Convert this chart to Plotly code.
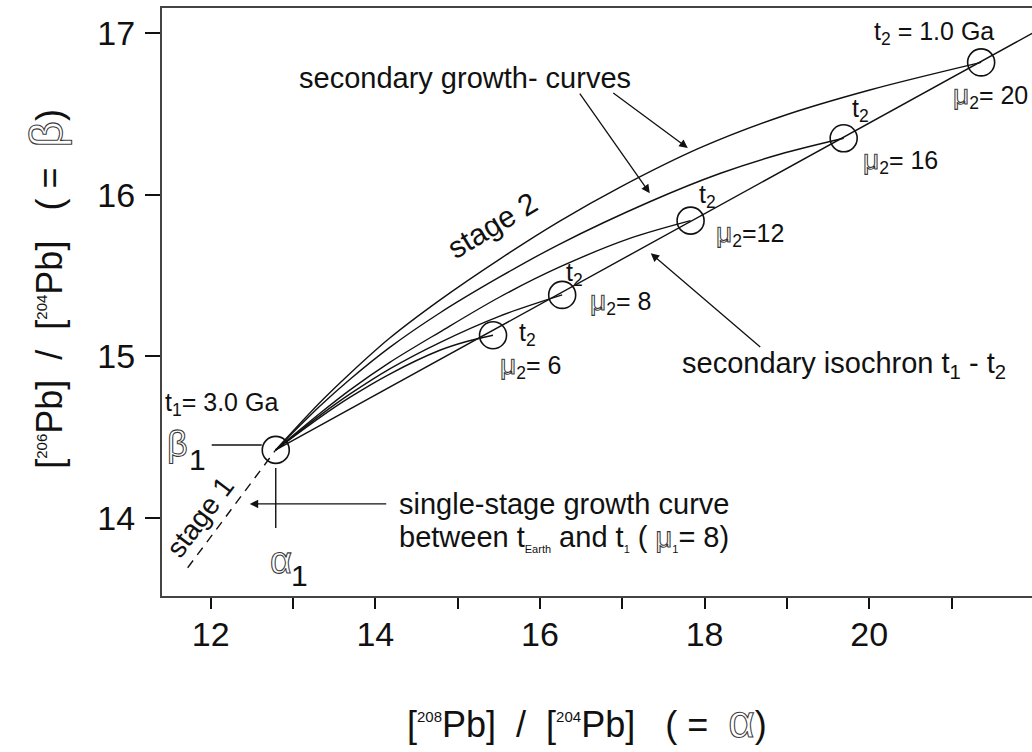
import plotly.graph_objects as go

FONT = "Liberation Sans, Arial, Helvetica, sans-serif"
INK = "#111111"

# ---- data (alpha on x, beta on y) ----
alpha1 = 12.79          # end of stage 1, t1 = 3.0 Ga
beta1 = 14.42
stage1_alpha = [11.72, 12.79]   # single-stage growth curve (dashed part)
stage1_beta = [13.69, 14.42]

mu2 = [6, 8, 12, 16, 20]
t2_alpha = [15.43, 16.27, 17.83, 19.69, 21.36]
t2_beta = [15.13, 15.38, 15.84, 16.35, 16.82]

# secondary isochron t1 - t2 (runs through all t2 points)
isochron_alpha = [12.79, 21.98]
isochron_beta = [14.42, 17.00]

# intermediate points of the secondary growth curves (between t1 and t2)
curve6_alpha = [13.324, 13.689, 14.175, 14.783, 15.098]
curve6_beta = [14.620, 14.745, 14.890, 15.037, 15.090]
curve8_alpha = [13.324, 13.689, 14.175, 14.783, 15.512]
curve8_beta = [14.632, 14.765, 14.922, 15.085, 15.249]
curve12_alpha = [13.324, 13.689, 14.175, 14.783, 15.512, 16.241, 17.091]
curve12_beta = [14.645, 14.790, 14.962, 15.150, 15.367, 15.553, 15.730]
curve16_alpha = [13.324, 13.689, 14.175, 14.783, 15.512, 16.241, 17.334, 18.185, 18.914]
curve16_beta = [14.690, 14.856, 15.055, 15.268, 15.491, 15.695, 15.957, 16.132, 16.251]
curve20_alpha = [13.324, 13.689, 14.175, 14.783, 15.512, 16.241, 16.970, 17.942, 18.914, 20.007]
curve20_beta = [14.712, 14.892, 15.113, 15.348, 15.602, 15.837, 16.046, 16.290, 16.482, 16.649]

x_tick_vals = [12, 13, 14, 15, 16, 17, 18, 19, 20, 21]
x_tick_text = ["12", "", "14", "", "16", "", "18", "", "20", ""]
y_tick_vals = [14, 15, 16, 17]

mid_alpha = [curve6_alpha, curve8_alpha, curve12_alpha, curve16_alpha, curve20_alpha]
mid_beta = [curve6_beta, curve8_beta, curve12_beta, curve16_beta, curve20_beta]

fig = go.Figure()

# stage 1 (dashed)
fig.add_trace(go.Scatter(x=stage1_alpha, y=stage1_beta, mode="lines",
                         line=dict(color=INK, width=1.4, dash="9px,7px")))

# secondary isochron
fig.add_trace(go.Scatter(x=isochron_alpha, y=isochron_beta, mode="lines",
                         line=dict(color=INK, width=1.4)))

# secondary growth curves from t1 to each t2
for i in range(len(mu2)):
    xs = [alpha1] + mid_alpha[i] + [t2_alpha[i]]
    ys = [beta1] + mid_beta[i] + [t2_beta[i]]
    fig.add_trace(go.Scatter(x=xs, y=ys, mode="lines",
                             line=dict(color=INK, width=1.4, shape="spline", smoothing=0.9)))

# open circles at t1 and t2 points
fig.add_trace(go.Scatter(x=[alpha1] + t2_alpha, y=[beta1] + t2_beta, mode="markers",
                         marker=dict(symbol="circle-open", size=27, color=INK,
                                     line=dict(color=INK, width=1.6))))


def hollow(ch, size):
    """Hollow (outlined) glyph used for the Greek symbols."""
    return (f"<span style='fill:none;stroke:rgba(20,20,20,0.85);stroke-width:1.1px;"
            f"text-rendering:geometricPrecision;font-size:{size}px'>{ch}</span>")


ann = []


def txt(x, y, text, size=29, xanchor="center", yanchor="middle", angle=0,
        xshift=0, yshift=0, xref="x", yref="y"):
    ann.append(dict(x=x, y=y, xref=xref, yref=yref, text=text, showarrow=False,
                    xanchor=xanchor, yanchor=yanchor, textangle=angle,
                    xshift=xshift, yshift=yshift,
                    font=dict(family=FONT, size=size, color=INK)))


def arrow(x, y, ax, ay):
    ann.append(dict(x=x, y=y, xref="x", yref="y", ax=ax, ay=ay, text="",
                    showarrow=True, arrowhead=2, arrowsize=1.3, arrowwidth=1.3,
                    arrowcolor=INK, standoff=0))


# labels inside the plot
txt(13.045, 16.723, "secondary growth- curves", xanchor="left")
arrow(17.796, 16.290, -76, -56)
arrow(17.334, 16.010, -71, -101)
txt(15.414, 15.811, "stage 2", size=30, angle=-31)
txt(11.866, 14.004, "stage 1", size=28, angle=-53)
txt(17.699, 14.946, "secondary isochron t<sub>1</sub> - t<sub>2</sub>", xanchor="left")
arrow(17.346, 15.638, 111, 95)

txt(11.417, 14.705, "t<sub>1</sub>= 3.0 Ga", size=25, xanchor="left")
txt(11.593, 14.462, hollow("β", 36), size=36)
txt(11.836, 14.362, "1", size=30)
txt(12.851, 13.732, hollow("α", 38), size=38)
txt(13.081, 13.645, "1", size=30)

small = "<span style='font-size:11px'>{}</span>"
arrow(12.474, 14.085, 138, 0)
txt(14.260, 14.085, "single-stage growth curve", xanchor="left")
txt(14.260, 13.876,
    f"between t<sub>{small.format('Earth')}</sub> and t<sub>{small.format('1')}</sub> ( "
    + hollow("μ", 29) + f"<sub>{small.format('1')}</sub>= 8)",
    xanchor="left")

# t2 / mu2 labels next to each circle (pixel offsets)
t2_text = ["t<sub>2</sub>"] * 4 + ["t<sub>2</sub> = 1.0 Ga"]
t2_dx = [34, 12, 17, 17, -47]
t2_dy = [-1, -21, -25, -28, -29]
mu_dx = [5, 26, 23, 17, -30]
mu_dy = [31, 7, 13, 23, 34]
mu_sep = [" ", " ", "", " ", " "]
for i in range(len(mu2)):
    txt(t2_alpha[i], t2_beta[i], t2_text[i], size=25, xshift=t2_dx[i], yshift=-t2_dy[i])
    txt(t2_alpha[i], t2_beta[i],
        hollow("μ", 28) + f"<sub>2</sub>={mu_sep[i]}{mu2[i]}", size=25,
        xanchor="left", xshift=mu_dx[i], yshift=-mu_dy[i])

# leader lines for alpha1 / beta1
shapes = [
    dict(type="line", xref="x", yref="y", x0=12.012, x1=12.62, y0=14.45, y1=14.45,
         line=dict(color=INK, width=1.4)),
    dict(type="line", xref="x", yref="y", x0=alpha1, x1=alpha1, y0=14.308, y1=13.936,
         line=dict(color=INK, width=1.4)),
]

# axis titles (paper coordinates; plot area spans x 162..1032 px, y 8..596 px)
sup = "<sup><span style='font-size:15px'>{}</span></sup>"
x_title = (f"[{sup.format('208')}Pb]  /  [{sup.format('204')}Pb]   ( =  "
           + hollow("α", 46) + ")")
y_title = (f"[{sup.format('206')}Pb]  /  [{sup.format('204')}Pb]   ( =  "
           + hollow("β", 46) + ")")
txt(0.488, -0.2125, x_title, size=36, xref="paper", yref="paper")
txt(-0.133, 0.523, y_title, size=36, angle=-90, xref="paper", yref="paper")

fig.update_layout(
    width=1032, height=752,
    margin=dict(l=162, r=0, t=8, b=156),
    paper_bgcolor="white", plot_bgcolor="white",
    showlegend=False,
    annotations=ann, shapes=shapes,
    xaxis=dict(range=[11.408, 21.978], tickvals=x_tick_vals, ticktext=x_tick_text,
               ticks="outside", ticklen=11, tickwidth=1.5, tickcolor=INK,
               showline=True, linewidth=2, linecolor="#444", mirror=True,
               showgrid=False, zeroline=False, ticklabelstandoff=-4,
               tickfont=dict(family=FONT, size=34, color=INK)),
    yaxis=dict(range=[13.515, 17.157], tickvals=y_tick_vals,
               ticks="outside", ticklen=15, tickwidth=1.5, tickcolor=INK,
               showline=True, linewidth=2, linecolor="#444", mirror=False,
               showgrid=False, zeroline=False, ticklabelstandoff=3,
               tickfont=dict(family=FONT, size=34, color=INK)),
)

fig.write_html("out.html")
